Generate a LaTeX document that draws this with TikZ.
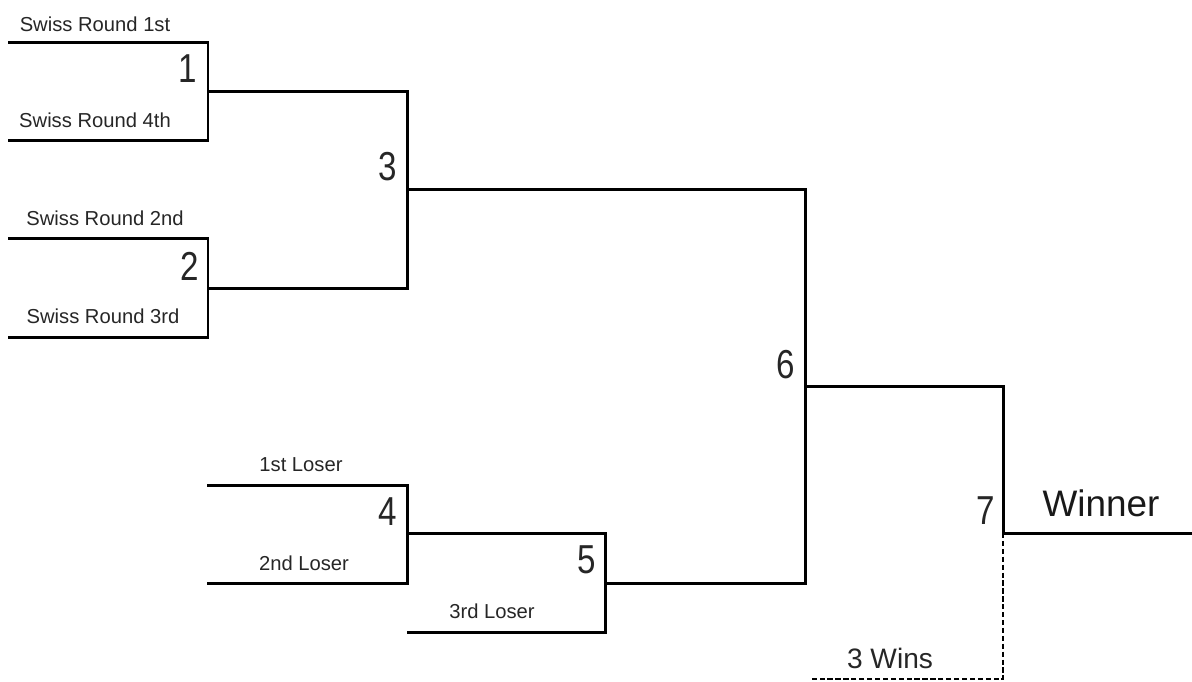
\documentclass[tikz,border=0pt]{standalone}
\usepackage{fontspec}
\setmainfont{Liberation Sans}
\begin{document}
\begin{tikzpicture}[x=0.02cm,y=-0.02cm,line join=miter,line width=1.7pt,
  small/.style={font=\fontsize{11.5}{13}\selectfont,text=black!85,inner sep=0pt},
  num/.style={font=\fontsize{23}{25}\selectfont,text=black!85,inner sep=0pt},
  big/.style={font=\fontsize{21}{23}\selectfont,text=black!90,inner sep=0pt}]
\useasboundingbox (0,0) rectangle (1192,681);
% bracket points
\coordinate (a1) at (8,42); \coordinate (a4) at (8,140);
\coordinate (a2) at (8,238); \coordinate (a3) at (8,337);
\coordinate (m1) at (208,91); \coordinate (m2) at (208,288);
\coordinate (m3) at (407,189);
\coordinate (l1) at (207,485); \coordinate (l2) at (207,583);
\coordinate (m4) at (407,533); \coordinate (l3) at (407,632);
\coordinate (m5) at (605,583);
\coordinate (m6) at (805,386);
\coordinate (m7) at (1003,533); \coordinate (win) at (1192,533);
\coordinate (w3) at (810,679);
\draw (a1)-|(m1)|-(a4) (a2)-|(m2)|-(a3) (m1)-|(m3)|-(m2);
\draw (l1)-|(m4)|-(l2) (m4)-|(m5)|-(l3);
\draw (m3)-|(m6)|-(m5) (m6)-|(m7)--(win);
\draw[line width=1.5pt,dash pattern=on 3pt off 1.5pt] (m7)|-(w3);
% labels
\foreach \n/\x/\y/\t in {t1/95/24/Swiss Round 1st,t4/95/120/Swiss Round 4th,t2/105/218/Swiss Round 2nd,t3/103/316/Swiss Round 3rd,u1/301/465/1st Loser,u2/304/563/2nd Loser,u3/492/611/3rd Loser}
\node[small] (\n) at (\x,\y) {\t};
\foreach \n/\x/\y/\t in {g1/188/69/1,g2/190/266/2,g3/388/167/3,g4/388/512/4,g5/587/560/5,g6/786/365/6,g7/986/511/7}
\node[num] (\n) at (\x,\y) {\scalebox{0.82}[1]{\t}};
\node[big] (wn) at (1101,503) {Winner};
\node[font=\fontsize{16}{18}\selectfont,text=black!85,inner sep=0pt] (tw) at (890,658) {3 Wins};
\end{tikzpicture}
\end{document}
